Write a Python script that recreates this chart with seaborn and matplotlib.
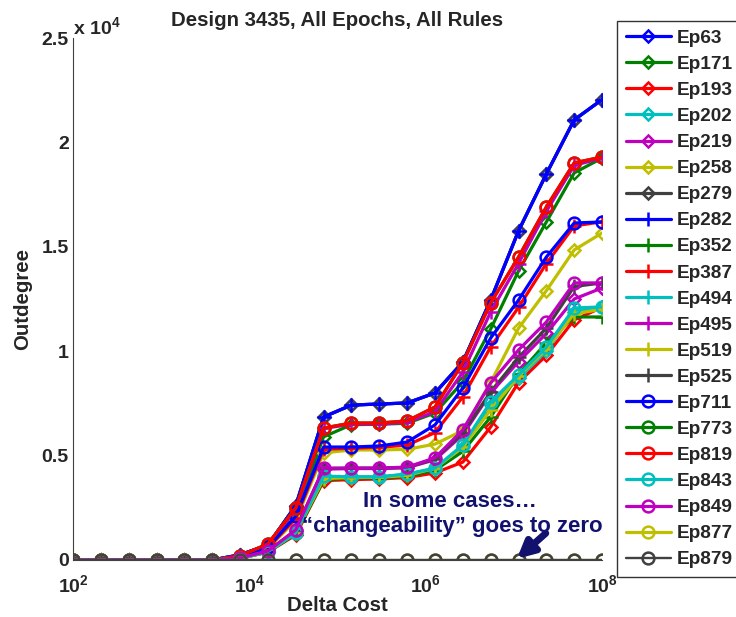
import numpy as np
import pandas as pd
import matplotlib
matplotlib.use("Agg")
import matplotlib.pyplot as plt
import seaborn as sns

# Delta cost sample points (20 log-spaced costs from 1e2 to 1e8)
delta_cost = [100, 206.9, 428.1, 885.9, 1833.0, 3792.7, 7847.6, 16237.8,
              33598.2, 69519.3, 143845.0, 297635.1, 615848.2, 1274275.0,
              2636651.0, 5455595.0, 11288379.0, 23357215.0, 48329302.0,
              100000000.0]

epochs = ["Ep63", "Ep171", "Ep193", "Ep202", "Ep219", "Ep258", "Ep279",
          "Ep282", "Ep352", "Ep387", "Ep494", "Ep495", "Ep519", "Ep525",
          "Ep711", "Ep773", "Ep819", "Ep843", "Ep849", "Ep877", "Ep879"]

ep63 = [0, 0, 0, 0, 0, 0, 250, 720, 2600, 6850, 7420, 7470, 7520, 8000, 9480, 12450, 15760, 18490, 21080, 22050]
ep171 = [0, 0, 0, 0, 0, 0, 180, 650, 2200, 5900, 6480, 6500, 6550, 7040, 8530, 11060, 13840, 16190, 18540, 19250]
ep193 = [0, 0, 0, 0, 0, 0, 80, 380, 1200, 3800, 3850, 3880, 3950, 4170, 4690, 6370, 8500, 9800, 11500, 12100]
ep202 = [0, 0, 0, 0, 0, 0, 90, 390, 1280, 3980, 3960, 3960, 4080, 4350, 5400, 7400, 8700, 10000, 11900, 12100]
ep219 = [0, 0, 0, 0, 0, 0, 100, 420, 1400, 4350, 4380, 4380, 4420, 4800, 6000, 8000, 9500, 10850, 12500, 13030]
ep258 = [0, 0, 0, 0, 0, 0, 140, 550, 1900, 5130, 5270, 5270, 5300, 5550, 6200, 8500, 11100, 12900, 14850, 15660]
ep279 = [0, 0, 0, 0, 0, 0, 250, 720, 2600, 6850, 7420, 7470, 7520, 8000, 9480, 12450, 15760, 18490, 21080, 22050]
ep282 = [0, 0, 0, 0, 0, 0, 250, 720, 2600, 6850, 7420, 7470, 7520, 8000, 9480, 12450, 15760, 18490, 21080, 22050]
ep352 = [0, 0, 0, 0, 0, 0, 80, 380, 1250, 3830, 3930, 3930, 4000, 4300, 5200, 6850, 8900, 10400, 11640, 11640]
ep387 = [0, 0, 0, 0, 0, 0, 150, 580, 2000, 5300, 5350, 5400, 5500, 6100, 7810, 10200, 12100, 14200, 16000, 16200]
ep494 = [0, 0, 0, 0, 0, 0, 90, 400, 1300, 4000, 3980, 3980, 4100, 4380, 5450, 7500, 8800, 10100, 12000, 12120]
ep495 = [0, 0, 0, 0, 0, 0, 190, 720, 2400, 6300, 6500, 6500, 6600, 7100, 9000, 11880, 14200, 16700, 18900, 19250]
ep519 = [0, 0, 0, 0, 0, 0, 90, 390, 1300, 3900, 3950, 3960, 4050, 4400, 5400, 7190, 8800, 10100, 11800, 12000]
ep525 = [0, 0, 0, 0, 0, 0, 100, 430, 1420, 4380, 4400, 4400, 4430, 4850, 6100, 8050, 9700, 11100, 13100, 13270]
ep711 = [0, 0, 0, 0, 0, 0, 160, 600, 2100, 5410, 5410, 5460, 5650, 6470, 8240, 10630, 12450, 14510, 16140, 16190]
ep773 = [0, 0, 0, 0, 0, 0, 200, 770, 2490, 6320, 6560, 6560, 6660, 7330, 9440, 12310, 14510, 16910, 19020, 19300]
ep819 = [0, 0, 0, 0, 0, 0, 200, 770, 2490, 6320, 6560, 6560, 6660, 7330, 9440, 12310, 14510, 16910, 19020, 19300]
ep843 = [0, 0, 0, 0, 0, 0, 90, 400, 1300, 4020, 3980, 3980, 4120, 4400, 5510, 7570, 8860, 10200, 12070, 12120]
ep849 = [0, 0, 0, 0, 0, 0, 100, 430, 1440, 4400, 4400, 4400, 4450, 4890, 6230, 8480, 10060, 11400, 13270, 13270]
ep877 = [0] * 20
ep879 = [0] * 20

series = [ep63, ep171, ep193, ep202, ep219, ep258, ep279,
          ep282, ep352, ep387, ep494, ep495, ep519, ep525,
          ep711, ep773, ep819, ep843, ep849, ep877, ep879]

y_ticks = [0, 5000, 10000, 15000, 20000, 25000]
y_tick_labels = ["0", "0.5", "1", "1.5", "2", "2.5"]
x_ticks = [1e2, 1e4, 1e6, 1e8]
x_tick_labels = ["$\\mathbf{10^{2}}$", "$\\mathbf{10^{4}}$", "$\\mathbf{10^{6}}$", "$\\mathbf{10^{8}}$"]

# MATLAB-style colour cycle and marker per block of seven epochs
colors = ["#0000ff", "#008000", "#ff0000", "#00bfbf", "#bf00bf", "#bfbf00", "#404040"]
markers = ["D", "+", "o"]

sns.set_style("white")
plt.rcParams["font.family"] = ["Liberation Sans", "DejaVu Sans"]
plt.rcParams["font.weight"] = "bold"
plt.rcParams["mathtext.fontset"] = "custom"
plt.rcParams["mathtext.rm"] = "Liberation Sans:bold"
plt.rcParams["mathtext.bf"] = "Liberation Sans:bold"
plt.rcParams["mathtext.it"] = "Liberation Sans:bold"

fig = plt.figure(figsize=(7.36, 6.17), dpi=100)
ax = fig.add_axes([0.0992, 0.0924, 0.7188, 0.846])

long_rows = []
for name, vals in zip(epochs, series):
    for c, v in zip(delta_cost, vals):
        long_rows.append((name, c, v))
df = pd.DataFrame(long_rows, columns=["epoch", "cost", "outdegree"])

handles = []
for i, name in enumerate(epochs):
    col = colors[i % 7]
    mk = markers[i // 7]
    ms = {"D": 6, "+": 10, "o": 8.5}[mk]
    lw = 2.3
    if name == "Ep879":
        lw = 1.7
    sub = df[df["epoch"] == name]
    sns.lineplot(data=sub, x="cost", y="outdegree", ax=ax, color=col,
                 marker=mk, markersize=ms, markerfacecolor="none",
                 markeredgecolor=col, markeredgewidth=1.8, linewidth=lw,
                 label=name, legend=False, estimator=None, sort=False)
    handles.append(ax.lines[-1])

ax.set_xscale("log")
ax.set_xlim(1e2, 1e8)
ax.set_ylim(0, 25000)
ax.set_xticks(x_ticks)
ax.set_xticklabels(x_tick_labels)
ax.xaxis.set_minor_locator(matplotlib.ticker.NullLocator())
ax.set_yticks(y_ticks)
ax.set_yticklabels(y_tick_labels)
ax.tick_params(axis="both", direction="in", length=4, width=0.8, labelsize=14)
ax.tick_params(axis="x", pad=10)
ax.tick_params(axis="y", pad=3)
for lbl in ax.get_xticklabels() + ax.get_yticklabels():
    lbl.set_fontweight("bold")

for side in ["top", "right"]:
    ax.spines[side].set_visible(False)
for side in ["left", "bottom"]:
    ax.spines[side].set_color("#404040")
    ax.spines[side].set_linewidth(0.8)

ax.set_xlabel("Delta Cost", fontsize=14.7, fontweight="bold", labelpad=0)
ax.set_ylabel("Outdegree", fontsize=14.7, fontweight="bold", labelpad=7)
ax.set_title("Design 3435, All Epochs, All Rules", fontsize=14.7,
             fontweight="bold", pad=9)
ax.text(0.0, 1.0, "x 10$^{4}$", transform=ax.transAxes, fontsize=14,
        fontweight="bold", ha="left", va="bottom")

navy = "#12126e"
ax.text(1.9e6, 2780, "In some cases\u2026", color=navy, fontsize=16,
        fontweight="bold", ha="center", va="center")
ax.text(2.0e6, 1580, "\u201cchangeability\u201d goes to zero", color=navy,
        fontsize=16, fontweight="bold", ha="center", va="center")
ax.annotate("", xy=(1.08e7, 50), xytext=(2.3e7, 1280),
            arrowprops=dict(arrowstyle="-|>,head_width=0.5,head_length=1.0",
                            color=navy, lw=5, shrinkA=0, shrinkB=0))

leg = fig.legend(handles=handles, labels=epochs, loc="upper left",
                 bbox_to_anchor=(617 / 736, 1 - 21 / 617), frameon=True,
                 fontsize=13.7, handlelength=2.4, borderpad=0.45,
                 labelspacing=0.46, handletextpad=0.3, borderaxespad=0,
                 fancybox=False)
leg.get_frame().set_edgecolor("black")
leg.get_frame().set_linewidth(1.0)
for t in leg.get_texts():
    t.set_fontweight("bold")

fig.savefig("out.png", dpi=100)
